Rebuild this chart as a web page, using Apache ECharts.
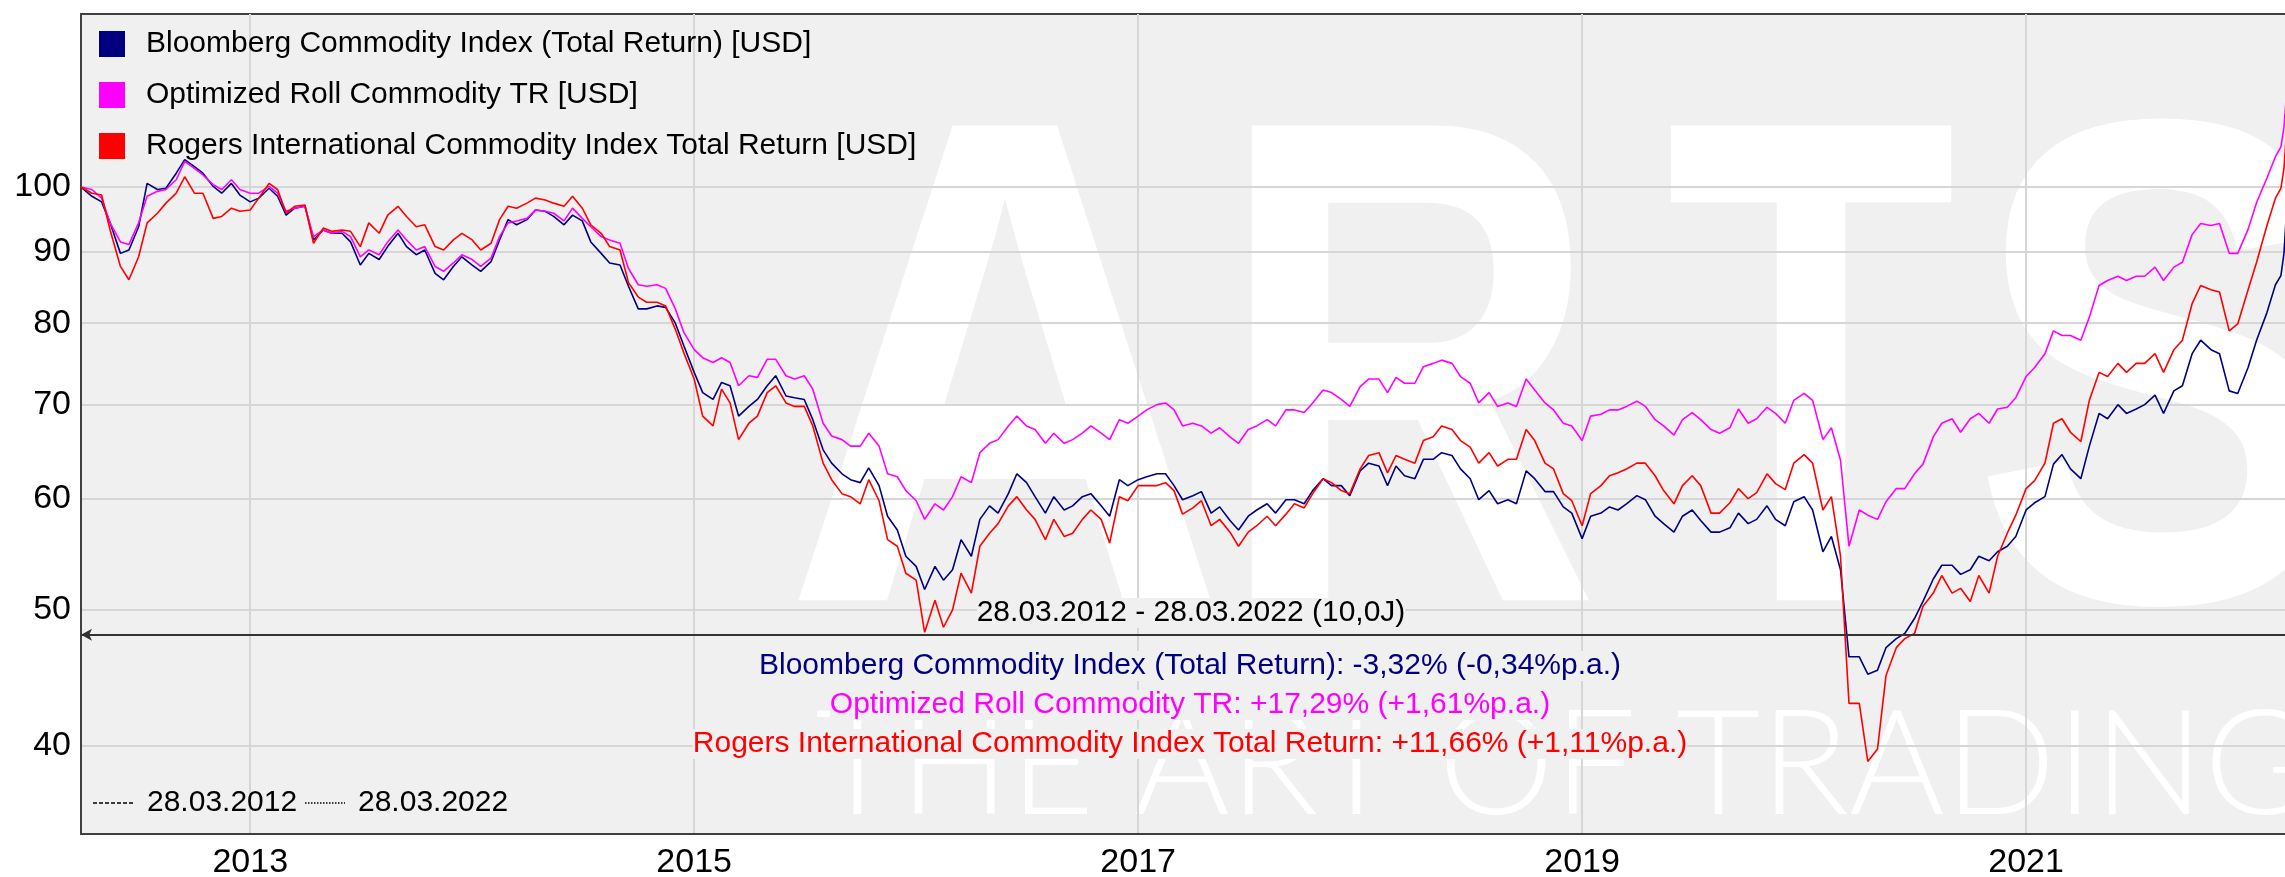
<!DOCTYPE html>
<html lang="de">
<head>
<meta charset="UTF-8">
<title>Commodity Index Vergleich</title>
<script src="https://cdn.jsdelivr.net/npm/echarts@6/dist/echarts.min.js"></script>
<style>
    html, body { margin: 0; padding: 0; background: #ffffff; }
    #chart { width: 2285px; height: 877px; }
</style>
</head>
<body>
<div id="chart"></div>
<script>
    // ---- data (semi-monthly samples) ----
    const seriesNames = [
        'Bloomberg Commodity Index (Total Return) [USD]',
        'Optimized Roll Commodity TR [USD]',
        'Rogers International Commodity Index Total Return [USD]'
    ];
    const seriesColors = ['#000080', '#ff00ff', '#ff0000'];

    // 28.03.2012, then 1st/15th of each month, then the last days before the cut-off
    function buildDates() {
        const out = ['2012-03-28', '2012-04-15'];
        for (let y = 2012; y <= 2022; y++) {
            for (let m = 1; m <= 12; m++) {
                if (y === 2012 && m < 5) continue;
                if (y === 2022 && m > 2) break;
                const mm = String(m).padStart(2, '0');
                out.push(y + '-' + mm + '-01', y + '-' + mm + '-15');
            }
        }
        out.push('2022-02-24', '2022-03-01', '2022-03-06');
        return out;
    }
    const dates = buildDates();

    const bloomberg = [
        100, 98.5, 97.6, 94.3, 89.7, 90.2, 93.7, 100.6, 99.6, 99.8, 102.3, 104.6, 103.4, 102.3, 100.1, 99.0, 100.6, 98.7,
        97.6, 98.2, 99.8, 98.5, 95.5, 96.6, 96.9, 91.7, 93.2, 92.7, 92.7, 91.4, 88.0, 89.7, 88.8, 90.7, 92.7, 90.7, 89.5, 90.2, 86.8, 85.9, 87.8, 89.2,
        88.0, 87.1, 88.5, 91.7, 94.8, 94.0, 94.8, 96.3, 96.1, 95.3, 94.0, 95.5, 94.6, 91.4, 89.7, 88.3, 88.0, 85.0, 81.9, 81.9, 82.3, 82.1, 80.0, 77.1,
        73.8, 71.4, 70.6, 72.6, 72.2, 68.7, 69.8, 70.6, 72.2, 73.4, 71.0, 70.8, 70.6, 68.3, 65.0, 63.6, 62.5, 61.9, 61.6, 63.1, 61.3, 58.3, 57.0, 54.6,
        53.7, 51.7, 53.7, 52.5, 53.4, 56.1, 54.6, 58.0, 59.3, 58.6, 60.5, 62.5, 61.6, 60.2, 58.6, 60.2, 58.9, 59.3, 60.2, 60.5, 59.3, 58.3, 61.9, 61.3,
        61.9, 62.2, 62.5, 62.5, 61.3, 59.9, 60.3, 60.7, 58.6, 59.2, 57.9, 57.0, 58.3, 58.9, 59.5, 58.6, 59.9, 59.9, 59.5, 60.8, 62.0, 61.3, 61.3, 60.3,
        62.8, 63.6, 63.3, 61.3, 63.3, 62.3, 62.0, 64.0, 64.0, 64.7, 64.4, 63.0, 62.0, 59.9, 60.8, 59.5, 59.9, 59.5, 62.8, 62.0, 60.7, 60.7, 59.2, 58.6,
        56.2, 58.3, 58.6, 59.2, 58.9, 59.5, 60.3, 59.9, 58.3, 57.6, 56.8, 58.3, 58.9, 57.9, 56.8, 56.8, 57.2, 58.6, 57.6, 58.0, 59.3, 58.0, 57.4, 59.7,
        60.2, 58.9, 55.0, 56.4, 53.4, 46.3, 46.3, 45.0, 45.3, 47.0, 47.7, 48.1, 49.3, 50.7, 52.6, 53.8, 53.8, 53.0, 53.4, 54.6, 54.2, 55.0, 55.5, 56.4,
        58.9, 59.6, 60.2, 63.5, 64.5, 63.0, 62.0, 65.4, 69.0, 68.4, 70.0, 69.0, 69.5, 70.0, 71.1, 69.0, 71.6, 72.2, 76.1, 77.8, 76.6, 76.1, 71.6, 71.3,
        74.4, 77.8, 81.4, 85.2, 86.5, 89.7, 97.3
    ];
    const optimized = [
        100, 99.6, 98.2, 94.3, 91.4, 91.0, 94.3, 98.5, 99.3, 99.6, 101.2, 104.3, 103.1, 102.0, 100.4, 99.6, 101.2, 99.6,
        99.0, 99.0, 100.1, 99.0, 96.1, 96.6, 96.9, 92.2, 93.2, 92.7, 93.0, 92.2, 89.2, 90.2, 89.5, 91.4, 93.2, 91.7, 90.2, 90.7, 87.8, 87.1, 88.3, 89.5,
        88.8, 87.8, 89.0, 92.2, 94.3, 94.6, 95.0, 96.3, 96.1, 95.8, 94.6, 96.6, 95.0, 93.7, 92.2, 91.7, 91.2, 87.5, 85.2, 85.0, 85.2, 84.7, 81.9, 78.8,
        76.6, 75.6, 75.0, 75.6, 75.0, 72.2, 73.4, 73.2, 75.4, 75.4, 73.4, 73.0, 73.4, 71.8, 67.9, 66.5, 66.1, 65.4, 65.4, 66.8, 65.4, 62.5, 62.2, 60.8,
        59.8, 58.0, 59.5, 58.9, 60.2, 62.2, 61.6, 64.7, 65.7, 66.1, 67.6, 68.7, 67.6, 67.2, 65.7, 66.8, 65.7, 66.1, 66.8, 67.6, 66.8, 66.1, 68.3, 67.9,
        68.7, 69.4, 70.0, 70.2, 69.4, 67.6, 67.9, 67.6, 66.8, 67.4, 66.4, 65.7, 67.2, 67.6, 68.3, 67.6, 69.4, 69.4, 69.1, 70.2, 71.7, 71.4, 70.6, 69.8,
        72.1, 73.0, 73.0, 71.4, 73.2, 72.5, 72.5, 74.5, 74.9, 75.3, 74.9, 73.3, 72.5, 70.2, 71.4, 69.8, 70.2, 69.8, 73.0, 71.7, 70.2, 69.4, 67.9, 67.6,
        66.0, 68.7, 68.9, 69.4, 69.4, 69.8, 70.4, 69.8, 68.3, 67.6, 66.6, 68.3, 69.1, 68.3, 67.2, 66.8, 67.4, 69.5, 67.9, 68.4, 69.7, 69.0, 67.9, 70.5,
        71.3, 70.5, 66.1, 67.4, 63.9, 55.5, 58.9, 58.4, 58.0, 59.7, 61.0, 61.0, 62.5, 63.5, 66.4, 67.9, 68.4, 66.9, 68.4, 69.0, 67.9, 69.5, 69.7, 70.8,
        73.3, 74.4, 76.1, 79.0, 78.4, 78.4, 77.8, 80.8, 85.1, 85.8, 86.4, 85.8, 86.4, 86.4, 87.7, 85.8, 87.7, 88.4, 92.5, 94.2, 93.9, 94.2, 89.7, 89.7,
        93.3, 97.5, 101.5, 105.1, 106.8, 110.3, 117.8
    ];
    const rogers = [
        100, 99.0, 98.7, 93.2, 87.8, 85.9, 89.2, 94.3, 95.8, 97.4, 99.0, 101.7, 99.0, 99.0, 95.0, 95.3, 96.6, 96.1,
        96.3, 98.2, 100.6, 99.6, 95.8, 96.9, 97.1, 91.2, 93.5, 93.0, 93.2, 93.0, 90.7, 94.3, 92.7, 95.5, 96.9, 95.3, 93.7, 94.0, 90.7, 90.2, 91.7, 92.7,
        91.7, 90.2, 91.2, 94.8, 96.9, 96.6, 97.4, 98.2, 97.9, 97.4, 96.9, 98.5, 96.6, 94.0, 92.7, 90.7, 90.2, 85.5, 83.5, 82.8, 82.8, 82.3, 79.2, 76.2,
        73.0, 68.7, 67.6, 71.8, 70.2, 66.1, 67.9, 68.7, 71.4, 72.2, 70.2, 69.8, 69.8, 67.6, 63.6, 61.9, 60.5, 60.2, 59.5, 61.9, 59.8, 56.1, 55.5, 53.1,
        52.5, 48.2, 50.8, 48.6, 50.0, 53.1, 51.4, 55.5, 56.7, 57.6, 59.3, 60.2, 58.9, 58.0, 56.1, 58.0, 56.4, 56.7, 58.0, 58.9, 58.0, 55.8, 60.2, 59.8,
        61.3, 61.3, 61.3, 61.6, 60.8, 58.5, 59.1, 59.8, 57.4, 58.0, 56.8, 55.5, 56.8, 57.4, 58.3, 57.4, 58.5, 59.5, 59.1, 60.5, 62.0, 61.6, 60.8, 60.5,
        63.0, 64.4, 64.7, 62.6, 64.4, 64.0, 63.6, 66.0, 66.4, 67.6, 67.2, 66.0, 65.3, 63.6, 64.7, 63.3, 64.0, 64.0, 67.2, 66.0, 63.6, 63.0, 60.5, 59.8,
        57.4, 60.5, 61.3, 62.3, 62.6, 63.0, 63.6, 63.6, 62.3, 60.8, 59.5, 61.3, 62.3, 61.3, 58.6, 58.6, 59.6, 61.0, 60.0, 60.6, 62.5, 61.5, 60.9, 63.6,
        64.5, 63.6, 58.9, 60.2, 54.6, 42.9, 42.9, 39.0, 39.8, 44.9, 47.0, 47.7, 48.1, 50.3, 51.4, 52.9, 51.4, 51.8, 50.7, 52.9, 51.4, 54.6, 56.7, 58.4,
        61.0, 61.8, 63.6, 67.9, 68.4, 66.9, 65.9, 70.5, 73.8, 73.3, 74.9, 73.8, 74.9, 74.9, 76.1, 73.8, 76.6, 77.8, 82.6, 85.1, 84.5, 84.2, 79.0, 79.9,
        84.5, 88.4, 93.9, 98.2, 99.8, 103.1, 110.9
    ];

    const yTicks = [40, 50, 60, 70, 80, 90, 100];
    const xTicks = [2013, 2015, 2017, 2019, 2021];
    const xRange = ['2012-03-28', '2022-03-06'];
    const yRange = [34.63, 132.8];

    const periodLabel = '28.03.2012 - 28.03.2022 (10,0J)';
    const periodLevel = 48.0;
    const statTexts = [
        'Bloomberg Commodity Index (Total Return): -3,32% (-0,34%p.a.)',
        'Optimized Roll Commodity TR: +17,29% (+1,61%p.a.)',
        'Rogers International Commodity Index Total Return: +11,66% (+1,11%p.a.)'
    ];
    const rangeDates = ['28.03.2012', '28.03.2022'];

    // ---- helpers ----
    // date string -> decimal year, so the x axis can be a plain value axis
    function decYear(s) {
        const p = s.split('-').map(Number);
        const start = Date.UTC(p[0], 0, 1);
        const next = Date.UTC(p[0] + 1, 0, 1);
        return p[0] + (Date.UTC(p[0], p[1] - 1, p[2]) - start) / (next - start);
    }
    function pairs(values) {
        return dates.map((d, i) => [decYear(d), values[i]]);
    }

    const FONT = '"Liberation Sans", Arial, sans-serif';
    const allValues = [bloomberg, optimized, rogers];

    const series = seriesNames.map((name, i) => ({
        name: name,
        type: 'line',
        data: pairs(allValues[i]),
        showSymbol: false,
        symbol: 'none',
        color: seriesColors[i],
        lineStyle: { color: seriesColors[i], width: 1.6 },
        emphasis: { disabled: true },
        z: 2
    }));

    // horizontal period line with the small arrow at the left
    series[0].markLine = {
        silent: true,
        symbol: ['arrow', 'none'],
        symbolSize: [9, 11],
        lineStyle: { color: '#333333', width: 2, type: 'solid' },
        label: { show: false },
        data: [{ yAxis: periodLevel }]
    };

    // watermark letters
    const wmFont = 'bold 690px ' + FONT;
    const wmLetters = [
        { ch: 'A', x: 1005, sx: 0.89 },
        { ch: 'R', x: 1408, sx: 0.77 },
        { ch: 'T', x: 1811, sx: 0.69 },
        { ch: 'S', x: 2160, sx: 0.82 }
    ];
    const graphics = wmLetters.map(l => ({
        type: 'text', x: l.x, y: 410, scaleX: l.sx, z: 1, silent: true,
        style: { text: l.ch, x: 0, y: 0, align: 'center', verticalAlign: 'middle', font: wmFont, fill: '#ffffff' }
    }));
    graphics.push(
        { type: 'text', x: 815, y: 767, z: 1, silent: true,
          style: { text: 'THE ART OF TRADING', x: 0, y: 0, align: 'left', verticalAlign: 'middle', font: '300 146px Lato, sans-serif', fill: '#ffffff' } },
        { type: 'text', z: 5, silent: true,
          style: { text: periodLabel, x: 1191, y: 613, align: 'center', verticalAlign: 'middle', font: '30px ' + FONT, fill: '#000000', backgroundColor: '#f0f0f0' } }
    );
    const statY = [666, 705, 744];
    statTexts.forEach((t, i) => {
        graphics.push({ type: 'text', z: 5, silent: true,
            style: { text: t, x: 1190, y: statY[i], align: 'center', verticalAlign: 'middle', font: '30px ' + FONT, fill: seriesColors[i], backgroundColor: '#f0f0f0' } });
    });
    // start / end line legend in the lower left
    graphics.push(
        { type: 'line', z: 5, silent: true, shape: { x1: 93, y1: 803, x2: 133, y2: 803 },
          style: { stroke: '#000000', lineWidth: 1.5, lineDash: [4, 2] } },
        { type: 'text', z: 5, silent: true,
          style: { text: rangeDates[0], x: 147, y: 803, align: 'left', verticalAlign: 'middle', font: '30px ' + FONT, fill: '#000000' } },
        { type: 'line', z: 5, silent: true, shape: { x1: 305, y1: 803, x2: 345, y2: 803 },
          style: { stroke: '#000000', lineWidth: 1.5, lineDash: [1.5, 1.5] } },
        { type: 'text', z: 5, silent: true,
          style: { text: rangeDates[1], x: 358, y: 803, align: 'left', verticalAlign: 'middle', font: '30px ' + FONT, fill: '#000000' } }
    );

    const chart = echarts.init(document.getElementById('chart'), null, { renderer: 'canvas' });
    const option = {
        animation: false,
        backgroundColor: '#ffffff',
        grid: {
            left: 81, top: 14, right: -2, bottom: 43,
            show: true,
            backgroundColor: '#f0f0f0',
            borderColor: '#404040',
            borderWidth: 2,
            containLabel: false,
            outerBoundsMode: 'none',
            z: 0
        },
        legend: {
            show: true,
            orient: 'vertical',
            left: 99,
            top: 29,
            padding: 0,
            itemGap: 21,
            itemWidth: 26,
            itemHeight: 26,
            icon: 'rect',
            selectedMode: false,
            textStyle: { fontFamily: FONT, fontSize: 30, color: '#000000', padding: [0, 0, 0, 16] },
            data: seriesNames
        },
        xAxis: {
            type: 'value',
            min: decYear(xRange[0]),
            max: decYear(xRange[1]),
            z: 1.5,
            axisLine: { show: true, onZero: false, lineStyle: { color: '#404040', width: 2 } },
            axisTick: { show: false, customValues: xTicks },
            axisLabel: {
                customValues: xTicks,
                formatter: v => String(Math.round(v)),
                fontFamily: FONT, fontSize: 34, color: '#000000', margin: 12
            },
            splitLine: { show: true, lineStyle: { color: '#d6d6d6', width: 2 } }
        },
        yAxis: {
            type: 'log',
            logBase: 10,
            min: yRange[0],
            max: yRange[1],
            z: 1.5,
            axisLine: { show: true, lineStyle: { color: '#404040', width: 2 } },
            axisTick: { show: false, customValues: yTicks },
            axisLabel: {
                customValues: yTicks,
                formatter: v => String(Math.round(v)),
                fontFamily: FONT, fontSize: 34, color: '#000000', margin: 10
            },
            splitLine: { show: true, lineStyle: { color: '#d6d6d6', width: 2 } }
        },
        graphic: graphics,
        series: series
    };
    chart.setOption(option);
</script>
</body>
</html>
